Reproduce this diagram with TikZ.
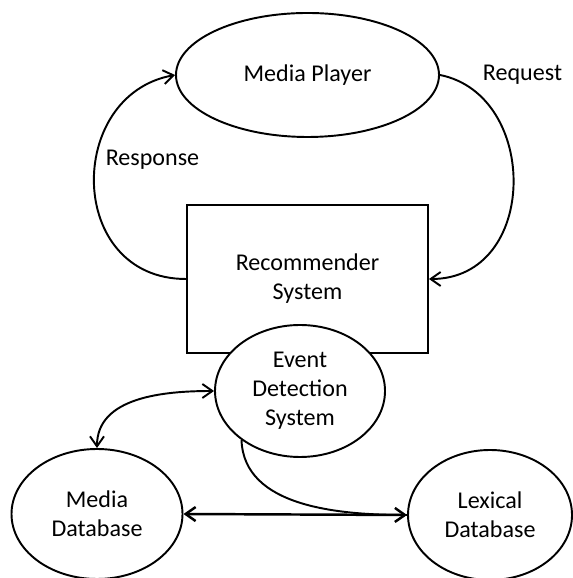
\documentclass[tikz,border=0pt]{standalone}
\usepackage{fontspec}
\setmainfont{Carlito}
\usetikzlibrary{shapes.geometric,arrows.meta}
\begin{document}
\begin{tikzpicture}[>={Straight Barb[length=2mm,width=2.8mm]},line width=1.1pt,
	font=\fontsize{13.7}{16.5}\selectfont,
	oval/.style={draw,ellipse,fill=white,inner sep=0pt,align=center},
	hop/.style={draw,rectangle,fill=white,inner sep=0pt,align=center}]
			% Khung hình
			\useasboundingbox (0,0) rectangle (11.44,11.56);
			% Media Player và Recommender System
			\node[oval,minimum width=5.26cm,minimum height=2.48cm] (player) at (6.15,10.06) {Media Player};
			\node[hop,minimum width=4.82cm,minimum height=2.96cm] (rec) at (6.15,5.98) {Recommender\\System};
			% Event Detection System (đè lên cạnh dưới)
			\node[oval,minimum width=3.4cm,minimum height=2.64cm] (event) at (6.00,3.74) {Event\\Detection\\System};
			% Hai cơ sở dữ liệu
			\node[oval,minimum width=3.42cm,minimum height=2.6cm] (mediadb) at (1.94,1.28) {Media\\Database};
			\node[oval,minimum width=3.28cm,minimum height=2.6cm] (lexdb) at (9.80,1.26) {Lexical\\Database};
			% Response, Request
			\draw[->] (rec.west) .. controls +(-2.4,0) and +(-2.2,-0.4) .. (player.west);
			\draw[->] (player.east) .. controls +(2.0,-0.4) and +(2.2,0) .. (rec.east);
			\node[anchor=base] (resp) at (3.05,8.24) {Response};
			\node[anchor=base] (req) at (10.45,9.94) {Request};
			% Các mũi tên phía dưới
			\draw[<->] (mediadb.north) to[out=90,in=180] (event.west);
			\draw (event.220) to[out=-88,in=180,looseness=0.95] (lexdb.west);
			\draw[<->,line width=1.4pt] (mediadb.east) -- (lexdb.west);
	\end{tikzpicture}
\end{document}
